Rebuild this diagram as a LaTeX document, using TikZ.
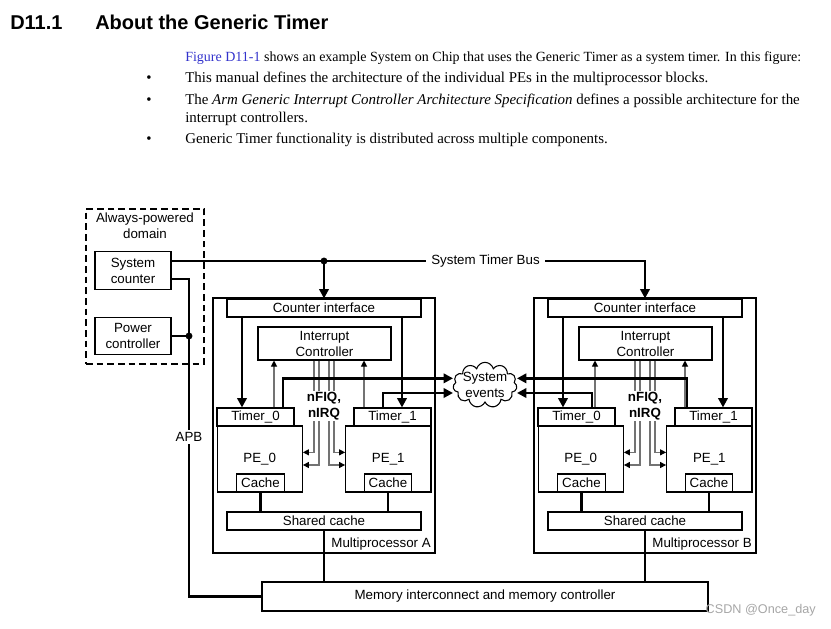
\documentclass[tikz,border=0pt]{standalone}
\usepackage{fontspec}
\setmainfont{Liberation Sans}
\newfontfamily\bodyfont{Liberation Serif}
\usetikzlibrary{arrows.meta,shapes.symbols}
\definecolor{figblue}{RGB}{51,51,204}

\begin{document}
\begin{tikzpicture}[x=0.75pt, y=-0.75pt, >={Triangle[length=7pt,width=7pt]},
    font=\fontsize{10}{12}\selectfont,
    box/.style={draw, line width=0.8pt, inner sep=0pt, align=center},
    cibox/.style={box, minimum width=145.5pt, minimum height=13.5pt},
    icbox/.style={box, minimum width=99.75pt, minimum height=24.75pt},
    tmbox/.style={box, minimum width=57.75pt, minimum height=13.5pt},
    pebox/.style={box, minimum width=64pt, minimum height=49.5pt},
    chbox/.style={box, minimum width=35.5pt, minimum height=13.5pt},
    mpbox/.style={box, minimum width=166.5pt, minimum height=191.25pt},
    dbox/.style={box, minimum width=57pt, minimum height=28pt},
    bus/.style={line width=1.8pt},
    sig/.style={draw=black!55, line width=0.8pt, -{Triangle[length=4.5pt,width=4.5pt,color=black]}},
    irq/.style={fill=white, align=center, inner sep=1pt, font=\bfseries\fontsize{10}{11.5}\selectfont},
    txt/.style={anchor=base west, inner sep=0pt, font=\bodyfont\fontsize{11.2}{13}\selectfont},
    head/.style={anchor=base west, inner sep=0pt, font=\bfseries\fontsize{15}{18}\selectfont}]

    \useasboundingbox (0,0) rectangle (831,628);

    % Heading and text
    \node (secnum) [head] at (10,29) {D11.1};
    \node (sectitle) [head] at (95,29) {About the Generic Timer};
    \node (intro) [txt, font=\bodyfont\fontsize{10.5}{13}\selectfont] at (185,61) {\textcolor{figblue}{Figure D11-1} shows an example System on Chip that uses the Generic Timer as a system timer. In this figure:};
    \node (dot1) [txt] at (146,82) {\textbullet};
    \node (item1) [txt] at (185,82) {This manual defines the architecture of the individual PEs in the multiprocessor blocks.};
    \node (dot2) [txt] at (146,104) {\textbullet};
    \node (item2) [txt] at (185,104) {The \textit{Arm Generic Interrupt Controller Architecture Specification} defines a possible architecture for the};
    \node (item2b) [txt] at (185,122) {interrupt controllers.};
    \node (dot3) [txt] at (146,143) {\textbullet};
    \node (item3) [txt] at (185,143) {Generic Timer functionality is distributed across multiple components.};

    % Always-powered domain
    \node (dom) [box, line width=1.5pt, dash pattern=on 5pt off 3pt, minimum width=88.5pt, minimum height=116.25pt] at (145,286.5) {};
    \node (domlbl) [align=center, inner sep=0pt] at (145,226) {Always-powered\\domain};
    \node (sysc) [dbox] at (133,270.5) {System\\counter};
    \node (pwr) [dbox] at (133,336) {Power\\controller};

    % System events and memory
    \node (ev) [cloud, draw, line width=0.8pt, cloud puffs=11, cloud ignores aspect, minimum width=48pt, minimum height=34pt, inner sep=0pt, label={[align=center, inner sep=0pt]center:System\\events}] at (485,385) {};
    \node (mem) [box, minimum width=334.5pt, minimum height=21.75pt] at (485,596.5) {Memory interconnect and memory controller};

    % Multiprocessor A
    \node (mpA) [mpbox] at (324,425.5) {};
    \node (ciA) [cibox] at (324,308) {Counter interface};
    \node (icA) [icbox] at (324.5,343.5) {Interrupt\\Controller};
    \node (t0A) [tmbox] at (255.5,417) {Timer\_0};
    \node (pe0A) [pebox] at (259.7,459) {PE\_0};
    \node (c0A) [chbox] at (260.5,483) {Cache};
    \node (t1A) [tmbox] at (392.5,417) {Timer\_1};
    \node (pe1A) [pebox] at (388.3,459) {PE\_1};
    \node (c1A) [chbox] at (388,483) {Cache};
    \node (scA) [cibox] at (324,521) {Shared cache};
    \node (mpAlbl) [anchor=base east, inner sep=0pt] at (431,547) {Multiprocessor A};

    \draw[bus,->] (ciA.south -| 242,0) -- (t0A.north -| 242,0);
    \draw[bus,->] (ciA.south -| 402,0) -- (t1A.north -| 402,0);
    \draw[sig] (t0A.north -| 274,0) -- (icA.south -| 274,0);
    \draw[sig] (t1A.north -| 364,0) -- (icA.south -| 364,0);
    \draw[sig] (icA.south -| 314,0) |- ([yshift=5pt]pe0A.east);
    \draw[sig] (icA.south -| 319,0) |- ([yshift=-4.5pt]pe0A.east);
    \draw[sig] (icA.south -| 329,0) |- ([yshift=-4.5pt]pe1A.west);
    \draw[sig] (icA.south -| 334,0) |- ([yshift=5pt]pe1A.west);
    \node (irqA) [irq] at (324,406) {nFIQ,\\nIRQ};
    \draw[bus,->] (t0A.north -| 283,0) |- ([yshift=5pt]ev.west);
    \draw[bus,->] (t1A.north -| 383,0) |- ([yshift=-6pt]ev.west);
    \draw[bus] (c0A.south) -- (c0A.south |- scA.north);
    \draw[bus] (c1A.south) -- (c1A.south |- scA.north);
    \draw[bus] (scA.south) -- (scA.south |- mem.north);

    % Multiprocessor B
    \node (mpB) [mpbox] at (645,425.5) {};
    \node (ciB) [cibox] at (645,308) {Counter interface};
    \node (icB) [icbox] at (645.5,343.5) {Interrupt\\Controller};
    \node (t0B) [tmbox] at (576.5,417) {Timer\_0};
    \node (pe0B) [pebox] at (580.7,459) {PE\_0};
    \node (c0B) [chbox] at (581.5,483) {Cache};
    \node (t1B) [tmbox] at (713.5,417) {Timer\_1};
    \node (pe1B) [pebox] at (709.3,459) {PE\_1};
    \node (c1B) [chbox] at (709,483) {Cache};
    \node (scB) [cibox] at (645,521) {Shared cache};
    \node (mpBlbl) [anchor=base east, inner sep=0pt] at (752,547) {Multiprocessor B};

    \draw[bus,->] (ciB.south -| 563,0) -- (t0B.north -| 563,0);
    \draw[bus,->] (ciB.south -| 723,0) -- (t1B.north -| 723,0);
    \draw[sig] (t0B.north -| 595,0) -- (icB.south -| 595,0);
    \draw[sig] (t1B.north -| 685,0) -- (icB.south -| 685,0);
    \draw[sig] (icB.south -| 635,0) |- ([yshift=5pt]pe0B.east);
    \draw[sig] (icB.south -| 640,0) |- ([yshift=-4.5pt]pe0B.east);
    \draw[sig] (icB.south -| 650,0) |- ([yshift=-4.5pt]pe1B.west);
    \draw[sig] (icB.south -| 655,0) |- ([yshift=5pt]pe1B.west);
    \node (irqB) [irq] at (645,406) {nFIQ,\\nIRQ};
    \draw[bus,->] (t1B.north -| 687,0) |- ([yshift=5pt]ev.east);
    \draw[bus,->] (t0B.north -| 592,0) |- ([yshift=-6pt]ev.east);
    \draw[bus] (c0B.south) -- (c0B.south |- scB.north);
    \draw[bus] (c1B.south) -- (c1B.south |- scB.north);
    \draw[bus] (scB.south) -- (scB.south |- mem.north);

    % System timer bus and APB
    \node (busl) [inner sep=4pt] at (485.5,261) {System Timer Bus};
    \coordinate (busA) at (324,261);
    \coordinate (apb) at (189,336);
    \draw[bus] (sysc.east |- busA) -- (busl.west);
    \draw[bus,->] (busl.east) -| (ciB.north);
    \draw[bus,->] (busA) -- (ciA.north);
    \fill (busA) circle (2.6pt);
    \draw[bus] (sysc.east |- 0,279) -| (apb) |- (mem.west);
    \draw[bus] (pwr.east) -- (apb);
    \fill (apb) circle (2.6pt);
    \node (apbl) [fill=white, inner sep=2pt] at (189,437) {APB};

    \node (wm) [anchor=east, inner sep=0pt, text=black!35, font=\fontsize{9.5}{11}\selectfont] at (816,610) {CSDN @Once\_day};

\end{tikzpicture}
\end{document}
